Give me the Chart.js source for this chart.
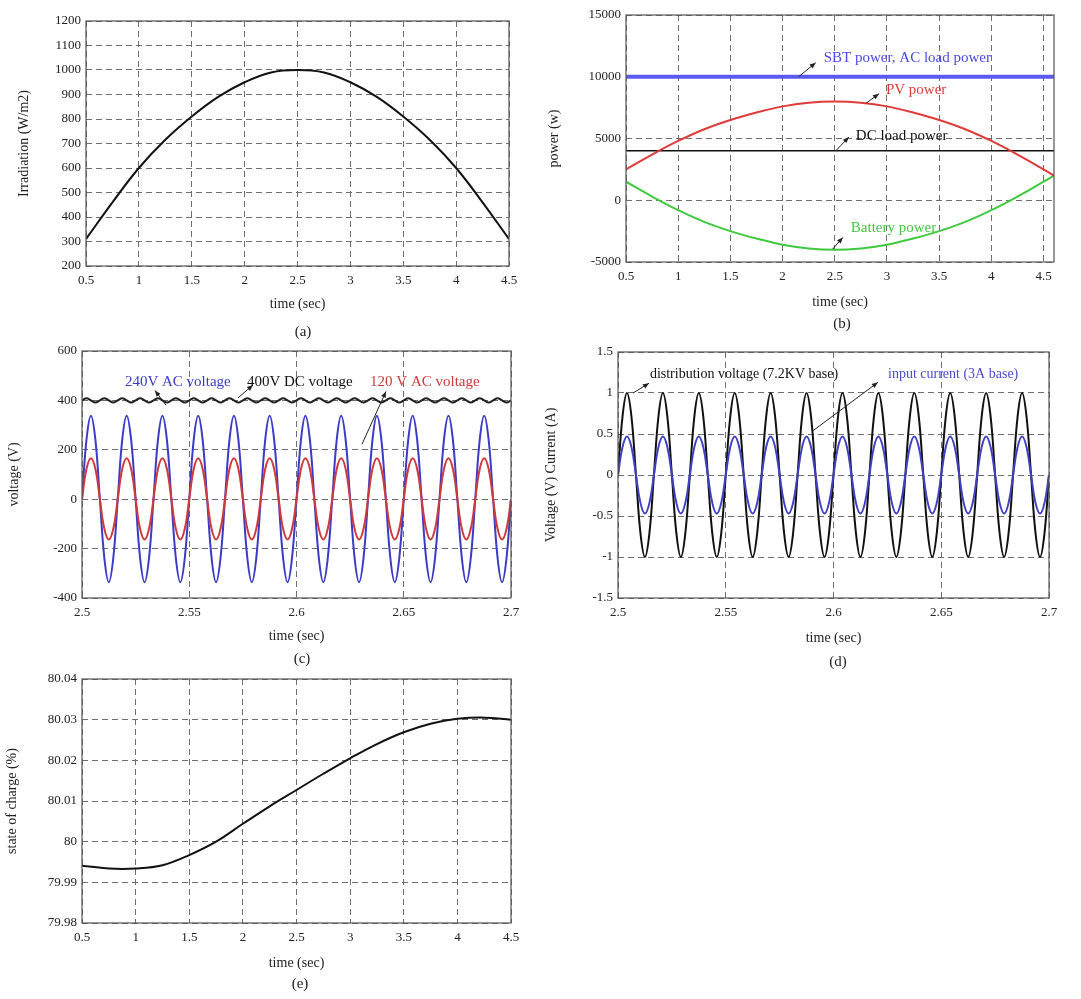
<!DOCTYPE html>
<html>
<head>
<meta charset="utf-8">
<script src="https://cdn.jsdelivr.net/npm/chart.js@4.4.0/dist/chart.umd.min.js"></script>
<style>
  html, body { margin: 0; padding: 0; background: #fff; }
  body { width: 1081px; height: 999px; position: relative; overflow: hidden;
         font-family: "Liberation Serif", "DejaVu Serif", serif; }
  canvas { position: absolute; }
  .cap { position: absolute; transform: translate(-50%, -50%); font-size: 15px; color: #222; }
</style>
</head>
<body>
<canvas id="chA"></canvas>
<canvas id="chB"></canvas>
<canvas id="chC"></canvas>
<canvas id="chD"></canvas>
<canvas id="chE"></canvas>
<div class="cap" style="left:303px;top:331px">(a)</div>
<div class="cap" style="left:842px;top:323px">(b)</div>
<div class="cap" style="left:302px;top:658px">(c)</div>
<div class="cap" style="left:838px;top:661px">(d)</div>
<div class="cap" style="left:300px;top:983px">(e)</div>
<script>
// ---- (a) irradiation ----
const irrTime = [0.5, 0.75, 1, 1.25, 1.5, 1.75, 2, 2.25, 2.5, 2.75, 3, 3.25, 3.5, 3.75, 4, 4.25, 4.5];
const irradiation = [310, 460, 600, 715, 810, 890, 950, 990, 1000, 990, 950, 890, 810, 715, 600, 460, 310];

// ---- (b) power ----
const powTime = [0.5, 0.75, 1, 1.25, 1.5, 1.75, 2, 2.25, 2.5, 2.75, 3, 3.25, 3.5, 3.75, 4, 4.25, 4.5, 4.6];
const pvPower = [2500, 3700, 4800, 5750, 6500, 7100, 7600, 7900, 8000, 7900, 7600, 7100, 6500, 5750, 4800, 3700, 2500, 2000];
const batteryPower = [1500, 300, -800, -1750, -2500, -3100, -3600, -3900, -4000, -3900, -3600, -3100, -2500, -1750, -800, 300, 1500, 2000];
const flatTime = [0.5, 4.6];
const sbtPower = [10000, 10000];
const dcLoadPower = [4000, 4000];

// ---- (c) voltages, samples every 0.2/96 s from 2.5 s ----
const acStart = 2.5;
const acStep = 0.2 / 96;
const ac240 = [
  0, 240, 338, 240, 0, -238, -336, -238,
  0, 240, 338, 240, 0, -238, -336, -238,
  0, 240, 338, 240, 0, -238, -336, -238,
  0, 240, 338, 240, 0, -238, -336, -238,
  0, 240, 338, 240, 0, -238, -336, -238,
  0, 240, 338, 240, 0, -238, -336, -238,
  0, 240, 338, 240, 0, -238, -336, -238,
  0, 240, 338, 240, 0, -238, -336, -238,
  0, 240, 338, 240, 0, -238, -336, -238,
  0, 240, 338, 240, 0, -238, -336, -238,
  0, 240, 338, 240, 0, -238, -336, -238,
  0, 240, 338, 240, 0, -238, -336, -238,
  0
];
const ac120 = [
  0, 122, 166, 122, 0, -120, -163, -120,
  0, 122, 166, 122, 0, -120, -163, -120,
  0, 122, 166, 122, 0, -120, -163, -120,
  0, 122, 166, 122, 0, -120, -163, -120,
  0, 122, 166, 122, 0, -120, -163, -120,
  0, 122, 166, 122, 0, -120, -163, -120,
  0, 122, 166, 122, 0, -120, -163, -120,
  0, 122, 166, 122, 0, -120, -163, -120,
  0, 122, 166, 122, 0, -120, -163, -120,
  0, 122, 166, 122, 0, -120, -163, -120,
  0, 122, 166, 122, 0, -120, -163, -120,
  0, 122, 166, 122, 0, -120, -163, -120,
  0
];
const dc400 = [
  400, 409, 400, 391, 400, 409, 400, 391,
  400, 409, 400, 391, 400, 409, 400, 391,
  400, 409, 400, 391, 400, 409, 400, 391,
  400, 409, 400, 391, 400, 409, 400, 391,
  400, 409, 400, 391, 400, 409, 400, 391,
  400, 409, 400, 391, 400, 409, 400, 391,
  400, 409, 400, 391, 400, 409, 400, 391,
  400, 409, 400, 391, 400, 409, 400, 391,
  400, 409, 400, 391, 400, 409, 400, 391,
  400, 409, 400, 391, 400, 409, 400, 391,
  400, 409, 400, 391, 400, 409, 400, 391,
  400, 409, 400, 391, 400, 409, 400, 391,
  400
];

// ---- (d) per-unit distribution voltage and input current ----
const distVoltage = [
  0, 0.71, 1, 0.71, 0, -0.71, -1, -0.71,
  0, 0.71, 1, 0.71, 0, -0.71, -1, -0.71,
  0, 0.71, 1, 0.71, 0, -0.71, -1, -0.71,
  0, 0.71, 1, 0.71, 0, -0.71, -1, -0.71,
  0, 0.71, 1, 0.71, 0, -0.71, -1, -0.71,
  0, 0.71, 1, 0.71, 0, -0.71, -1, -0.71,
  0, 0.71, 1, 0.71, 0, -0.71, -1, -0.71,
  0, 0.71, 1, 0.71, 0, -0.71, -1, -0.71,
  0, 0.71, 1, 0.71, 0, -0.71, -1, -0.71,
  0, 0.71, 1, 0.71, 0, -0.71, -1, -0.71,
  0, 0.71, 1, 0.71, 0, -0.71, -1, -0.71,
  0, 0.71, 1, 0.71, 0, -0.71, -1, -0.71,
  0
];
const inputCurrent = [
  0, 0.34, 0.47, 0.34, 0, -0.34, -0.47, -0.34,
  0, 0.34, 0.47, 0.34, 0, -0.34, -0.47, -0.34,
  0, 0.34, 0.47, 0.34, 0, -0.34, -0.47, -0.34,
  0, 0.34, 0.47, 0.34, 0, -0.34, -0.47, -0.34,
  0, 0.34, 0.47, 0.34, 0, -0.34, -0.47, -0.34,
  0, 0.34, 0.47, 0.34, 0, -0.34, -0.47, -0.34,
  0, 0.34, 0.47, 0.34, 0, -0.34, -0.47, -0.34,
  0, 0.34, 0.47, 0.34, 0, -0.34, -0.47, -0.34,
  0, 0.34, 0.47, 0.34, 0, -0.34, -0.47, -0.34,
  0, 0.34, 0.47, 0.34, 0, -0.34, -0.47, -0.34,
  0, 0.34, 0.47, 0.34, 0, -0.34, -0.47, -0.34,
  0, 0.34, 0.47, 0.34, 0, -0.34, -0.47, -0.34,
  0
];

// ---- (e) state of charge ----
const socTime = [0.5, 0.75, 1, 1.25, 1.5, 1.75, 2, 2.25, 2.5, 2.75, 3, 3.25, 3.5, 3.75, 4, 4.25, 4.5];
const stateOfCharge = [79.9941, 79.9934, 79.9934, 79.9942, 79.9967, 80.0, 80.0044, 80.0087, 80.0127,
                       80.0167, 80.0205, 80.024, 80.0269, 80.029, 80.0302, 80.0305, 80.030];

// ------------------------------------------------------------------------
const FONT = '"Liberation Serif", "Times New Roman", serif';

function pts(xs, ys) { return ys.map((y, i) => ({ x: xs[i], y: y })); }
function acPts(ys) { return ys.map((y, i) => ({ x: acStart + i * acStep, y: y })); }
function fmt(v) { return String(+(+v).toFixed(4)); }

// plot frame drawn over the edge grid lines
const framePlugin = {
    id: 'frame',
    afterDraw(chart) {
        const a = chart.chartArea, ctx = chart.ctx;
        ctx.save();
        ctx.strokeStyle = '#555';
        ctx.lineWidth = 1.2;
        ctx.strokeRect(a.left, a.top, a.right - a.left, a.bottom - a.top);
        ctx.restore();
    }
};

// text labels with small arrows, given in data coordinates
function notesPlugin(items, size) {
    return {
        id: 'notes',
        afterDatasetsDraw(chart) {
            const ctx = chart.ctx, xs = chart.scales.x, ys = chart.scales.y;
            ctx.save();
            items.forEach(n => {
                if (n.arrow) {
                    const hx = xs.getPixelForValue(n.arrow[0]), hy = ys.getPixelForValue(n.arrow[1]);
                    const tx = xs.getPixelForValue(n.arrow[2]), ty = ys.getPixelForValue(n.arrow[3]);
                    ctx.strokeStyle = '#222';
                    ctx.fillStyle = '#222';
                    ctx.lineWidth = 1;
                    ctx.beginPath();
                    ctx.moveTo(tx, ty);
                    ctx.lineTo(hx, hy);
                    ctx.stroke();
                    const ang = Math.atan2(hy - ty, hx - tx);
                    ctx.beginPath();
                    ctx.moveTo(hx, hy);
                    ctx.lineTo(hx - 6 * Math.cos(ang) + 2.5 * Math.sin(ang), hy - 6 * Math.sin(ang) - 2.5 * Math.cos(ang));
                    ctx.lineTo(hx - 6 * Math.cos(ang) - 2.5 * Math.sin(ang), hy - 6 * Math.sin(ang) + 2.5 * Math.cos(ang));
                    ctx.closePath();
                    ctx.fill();
                }
            });
            ctx.font = size + 'px ' + FONT;
            ctx.textBaseline = 'middle';
            ctx.textAlign = 'left';
            items.forEach(n => {
                ctx.fillStyle = n.color;
                ctx.fillText(n.text, xs.getPixelForValue(n.x), ys.getPixelForValue(n.y));
            });
            ctx.restore();
        }
    };
}

function axis(which, ax, box, area) {
    const isX = which === 'x';
    return {
        type: 'linear',
        position: isX ? 'bottom' : 'left',
        min: ax.min,
        max: ax.max,
        ticks: {
            stepSize: ax.step, includeBounds: false, autoSkip: false, maxRotation: 0,
            padding: isX ? 7 : 5, color: '#222', font: { family: FONT, size: 13 }, callback: fmt
        },
        grid: { color: '#6e6e6e', lineWidth: 1, drawTicks: false },
        border: { display: false, dash: [6, 4] },
        title: {
            display: true, text: ax.title, color: '#222', font: { family: FONT, size: 14 },
            padding: isX ? { top: 0, bottom: ax.pad } : { top: ax.pad, bottom: 0 }
        },
        afterFit: s => {
            if (isX) s.height = box.y + box.h - area.b;
            else s.width = area.l - box.x;
        }
    };
}

function panel(id, box, area, xAx, yAx, datasets, notes, noteSize) {
    const cv = document.getElementById(id);
    cv.style.left = box.x + 'px';
    cv.style.top = box.y + 'px';
    cv.width = box.w;
    cv.height = box.h;
    new Chart(cv, {
        type: 'line',
        data: { datasets: datasets },
        options: {
            responsive: false,
            animation: false,
            devicePixelRatio: 1,
            parsing: false,
            layout: { padding: { left: 0, top: area.t - box.y, right: box.x + box.w - area.r, bottom: 0 } },
            elements: { point: { radius: 0 } },
            plugins: { legend: { display: false }, tooltip: { enabled: false } },
            scales: { x: axis('x', xAx, box, area), y: axis('y', yAx, box, area) }
        },
        plugins: [framePlugin, notesPlugin(notes || [], noteSize || 15)]
    });
}

// (a)
panel('chA', { x: 0, y: 0, w: 540, h: 320 }, { l: 86, t: 21, r: 509, b: 266 },
    { min: 0.5, max: 4.5, step: 0.5, title: 'time (sec)', pad: 7 },
    { min: 200, max: 1200, step: 100, title: 'Irradiation (W/m2)', pad: 16 },
    [{ data: pts(irrTime, irradiation), borderColor: '#111', borderWidth: 2, tension: 0.4 }]);

// (b)
panel('chB', { x: 540, y: 0, w: 541, h: 320 }, { l: 626, t: 15, r: 1054, b: 262 },
    { min: 0.5, max: 4.6, step: 0.5, title: 'time (sec)', pad: 9 },
    { min: -5000, max: 15000, step: 5000, title: 'power (w)', pad: 6 },
    [
        { data: pts(flatTime, sbtPower), borderColor: '#5b5bf2', borderWidth: 4 },
        { data: pts(powTime, pvPower), borderColor: '#e03a3a', borderWidth: 2, tension: 0.4 },
        { data: pts(flatTime, dcLoadPower), borderColor: '#111', borderWidth: 1.5 },
        { data: pts(powTime, batteryPower), borderColor: '#3fc93f', borderWidth: 2, tension: 0.4 }
    ],
    [
        { text: 'SBT power, AC load power', x: 2.394, y: 11545, color: '#4a4ae6', arrow: [2.317, 11138, 2.154, 10000] },
        { text: 'PV power', x: 2.99, y: 8943, color: '#e03a3a', arrow: [2.923, 8618, 2.798, 7850] },
        { text: 'DC load power', x: 2.702, y: 5203, color: '#111', arrow: [2.635, 5122, 2.51, 4000] },
        { text: 'Battery power', x: 2.654, y: -2276, color: '#3fc93f', arrow: [2.577, -3008, 2.48, -3950] }
    ], 15);

// (c)
panel('chC', { x: 0, y: 330, w: 540, h: 320 }, { l: 82, t: 351, r: 511, b: 598 },
    { min: 2.5, max: 2.7, step: 0.05, title: 'time (sec)', pad: 5 },
    { min: -400, max: 600, step: 200, title: 'voltage (V)', pad: 6 },
    [
        { data: acPts(ac120), borderColor: '#d03a3a', borderWidth: 2, tension: 0.4 },
        { data: acPts(ac240), borderColor: '#3b3bc8', borderWidth: 2, tension: 0.4 },
        { data: acPts(dc400), borderColor: '#222', borderWidth: 2, tension: 0.4 }
    ],
    [
        { text: '120 V AC voltage', x: 2.6343, y: 473, color: '#d03a3a', arrow: [2.6417, 436, 2.6305, 222] },
        { text: '240V AC voltage', x: 2.52, y: 473, color: '#3b3bc8', arrow: [2.534, 440, 2.5392, 380] },
        { text: '400V DC voltage', x: 2.5769, y: 473, color: '#111', arrow: [2.5797, 462, 2.5727, 410] }
    ], 15);

// (d)
panel('chD', { x: 540, y: 330, w: 541, h: 320 }, { l: 618, t: 352, r: 1049, b: 598 },
    { min: 2.5, max: 2.7, step: 0.05, title: 'time (sec)', pad: 3 },
    { min: -1.5, max: 1.5, step: 0.5, title: 'Voltage (V) Current (A)', pad: 3 },
    [
        { data: acPts(inputCurrent), borderColor: '#4040c4', borderWidth: 2, tension: 0.4 },
        { data: acPts(distVoltage), borderColor: '#111', borderWidth: 2, tension: 0.4 }
    ],
    [
        { text: 'distribution voltage (7.2KV base)', x: 2.5148, y: 1.23, color: '#111', arrow: [2.5144, 1.12, 2.507, 1.0] },
        { text: 'input current (3A base)', x: 2.6253, y: 1.23, color: '#4a4ad6', arrow: [2.6206, 1.13, 2.5905, 0.54] }
    ], 14);

// (e)
panel('chE', { x: 0, y: 655, w: 540, h: 320 }, { l: 82, t: 679, r: 511, b: 923 },
    { min: 0.5, max: 4.5, step: 0.5, title: 'time (sec)', pad: 3 },
    { min: 79.98, max: 80.04, step: 0.01, title: 'state of charge (%)', pad: 4 },
    [{ data: pts(socTime, stateOfCharge), borderColor: '#111', borderWidth: 2, tension: 0.4 }]);
</script>
</body>
</html>
